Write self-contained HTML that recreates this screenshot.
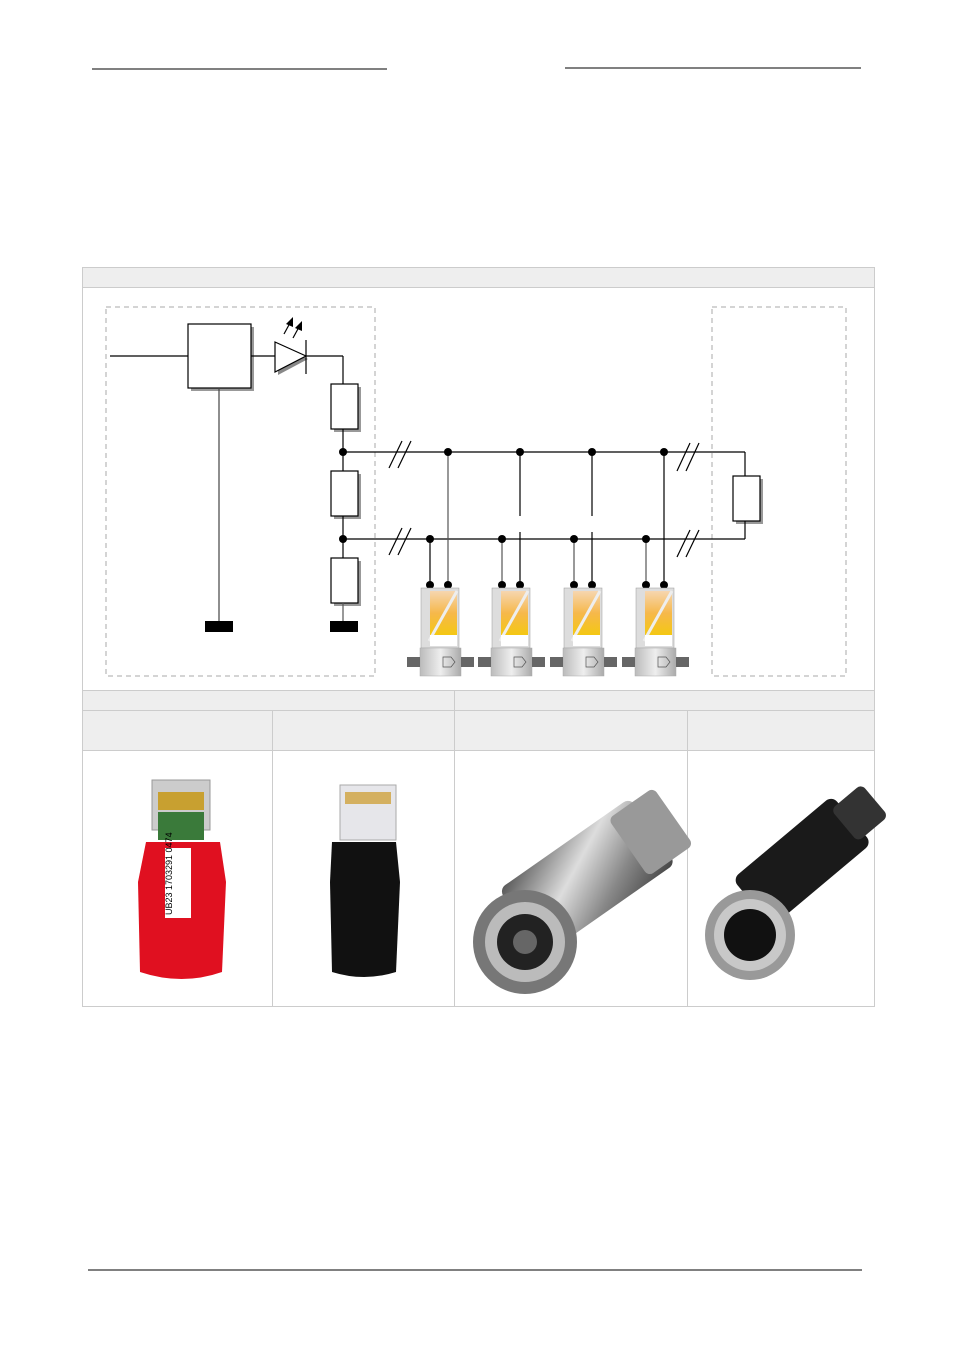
<!DOCTYPE html>
<html><head><meta charset="utf-8"><style>
html,body{margin:0;padding:0;background:#fff}
svg{display:block}
</style></head><body>
<svg width="955" height="1350" viewBox="0 0 955 1350" xmlns="http://www.w3.org/2000/svg" font-family="Liberation Sans, sans-serif">
<defs>
<linearGradient id="orng" x1="0" y1="0" x2="0" y2="1"><stop offset="0" stop-color="#f6d6b0"/><stop offset="0.5" stop-color="#f6b84a"/><stop offset="1" stop-color="#f4c810"/></linearGradient>
<linearGradient id="metal" x1="0" y1="0" x2="1" y2="0"><stop offset="0" stop-color="#bbb"/><stop offset="0.5" stop-color="#eee"/><stop offset="1" stop-color="#aaa"/></linearGradient>
<linearGradient id="silv" x1="0" y1="0" x2="1" y2="1"><stop offset="0" stop-color="#555"/><stop offset="0.4" stop-color="#ddd"/><stop offset="0.7" stop-color="#888"/><stop offset="1" stop-color="#444"/></linearGradient>
<g id="dev">
<rect x="-20" y="5" width="38" height="60" fill="#ddd" stroke="#999" stroke-width="0.5"/>
<rect x="-11" y="8" width="27" height="45" fill="url(#orng)"/>
<line x1="-12" y1="58" x2="16" y2="8" stroke="#eee" stroke-width="3"/>
<rect x="-11" y="52" width="27" height="11" fill="#fff"/>
<rect x="-21" y="65" width="41" height="28" fill="url(#metal)" stroke="#aaa" stroke-width="0.5"/>
<rect x="-34" y="74" width="13" height="10" fill="#666"/>
<rect x="20" y="74" width="13" height="10" fill="#666"/>
<path d="M2 74h8l4 5-4 5h-8z" fill="none" stroke="#555" stroke-width="0.7"/>
</g>
</defs>
<line x1="92" y1="69" x2="387" y2="69" stroke="#000" stroke-width="1"/>
<line x1="565" y1="68" x2="861" y2="68" stroke="#000" stroke-width="1"/>
<line x1="88" y1="1270" x2="862" y2="1270" stroke="#000" stroke-width="1"/>
<rect x="82.5" y="267.5" width="792" height="739" fill="#fff" stroke="#ccc"/>
<rect x="83" y="268" width="791" height="19" fill="#eee"/>
<line x1="82" y1="287.5" x2="874" y2="287.5" stroke="#ccc"/>
<rect x="83" y="690" width="791" height="60" fill="#eee"/>
<line x1="82" y1="690.5" x2="874" y2="690.5" stroke="#ccc"/>
<line x1="82" y1="710.5" x2="874" y2="710.5" stroke="#ccc"/>
<line x1="82" y1="750.5" x2="874" y2="750.5" stroke="#ccc"/>
<line x1="454.5" y1="690" x2="454.5" y2="1007" stroke="#ccc"/>
<line x1="272.5" y1="710" x2="272.5" y2="1007" stroke="#ccc"/>
<line x1="687.5" y1="710" x2="687.5" y2="1007" stroke="#ccc"/>
<rect x="106" y="307" width="269" height="369" fill="none" stroke="#aaa" stroke-dasharray="5,4"/>
<rect x="712" y="307" width="134" height="369" fill="none" stroke="#aaa" stroke-dasharray="5,4"/>
<g stroke="#000" stroke-width="1.2" fill="none">
<line x1="110" y1="356" x2="188" y2="356"/>
<rect x="191" y="327" width="63" height="64" fill="#999" stroke="none"/>
<rect x="188" y="324" width="63" height="64" fill="#fff"/>
<line x1="219" y1="388" x2="219" y2="622" stroke="#444"/>
<line x1="251" y1="356" x2="275" y2="356"/>
<polygon points="278,345 308,359 278,375" fill="#888" stroke="none"/>
<polygon points="275,342 306,356 275,372" fill="#fff"/>
<line x1="306" y1="340" x2="306" y2="374"/>
<line x1="306" y1="356" x2="343" y2="356"/>
<line x1="343" y1="356" x2="343" y2="384"/>
<line x1="284" y1="334" x2="290" y2="323"/><line x1="293" y1="338" x2="299" y2="327"/>
</g>
<polygon points="293,317 286,324 293,327" fill="#000"/>
<polygon points="302,321 295,328 302,331" fill="#000"/>
<g>
<rect x="334" y="387" width="27" height="45" fill="#999"/><rect x="331" y="384" width="27" height="45" fill="#fff" stroke="#000" stroke-width="1.2"/>
<rect x="334" y="474" width="27" height="45" fill="#999"/><rect x="331" y="471" width="27" height="45" fill="#fff" stroke="#000" stroke-width="1.2"/>
<rect x="334" y="561" width="27" height="45" fill="#999"/><rect x="331" y="558" width="27" height="45" fill="#fff" stroke="#000" stroke-width="1.2"/>
<rect x="736" y="479" width="27" height="45" fill="#999"/><rect x="733" y="476" width="27" height="45" fill="#fff" stroke="#000" stroke-width="1.2"/>
</g>
<g stroke="#000" stroke-width="1.2" fill="none">
<line x1="343" y1="429" x2="343" y2="471"/>
<line x1="343" y1="516" x2="343" y2="558"/>
<line x1="343" y1="603" x2="343" y2="622" stroke="#555"/>
<line x1="343" y1="452" x2="745" y2="452"/>
<line x1="343" y1="539" x2="745" y2="539"/>
<line x1="745" y1="452" x2="745" y2="476"/>
<line x1="745" y1="521" x2="745" y2="539"/>
<line x1="389" y1="468" x2="402" y2="441"/><line x1="398" y1="468" x2="411" y2="441"/>
<line x1="389" y1="555" x2="402" y2="528"/><line x1="398" y1="555" x2="411" y2="528"/>
<line x1="677" y1="471" x2="690" y2="443"/><line x1="686" y1="471" x2="699" y2="443"/>
<line x1="677" y1="557" x2="690" y2="530"/><line x1="686" y1="557" x2="699" y2="530"/>
<line x1="448" y1="452" x2="448" y2="583" stroke="#555"/>
<line x1="430" y1="539" x2="430" y2="583"/>
<line x1="520" y1="452" x2="520" y2="516"/><line x1="520" y1="532" x2="520" y2="583"/>
<line x1="502" y1="539" x2="502" y2="583" stroke="#555"/>
<line x1="592" y1="452" x2="592" y2="516"/><line x1="592" y1="532" x2="592" y2="583"/>
<line x1="574" y1="539" x2="574" y2="583" stroke="#555"/>
<line x1="664" y1="452" x2="664" y2="583"/>
<line x1="646" y1="539" x2="646" y2="583" stroke="#555"/>
</g>
<rect x="205" y="621" width="28" height="11" fill="#000"/>
<rect x="330" y="621" width="28" height="11" fill="#000"/>
<g fill="#000">
<circle cx="343" cy="452" r="4"/><circle cx="343" cy="539" r="4"/>
<circle cx="448" cy="452" r="4"/><circle cx="520" cy="452" r="4"/><circle cx="592" cy="452" r="4"/><circle cx="664" cy="452" r="4"/>
<circle cx="430" cy="539" r="4"/><circle cx="502" cy="539" r="4"/><circle cx="574" cy="539" r="4"/><circle cx="646" cy="539" r="4"/>
<circle cx="430" cy="585" r="4"/><circle cx="448" cy="585" r="4"/><circle cx="502" cy="585" r="4"/><circle cx="520" cy="585" r="4"/>
<circle cx="574" cy="585" r="4"/><circle cx="592" cy="585" r="4"/><circle cx="646" cy="585" r="4"/><circle cx="664" cy="585" r="4"/>
</g>
<use href="#dev" x="441" y="583"/>
<use href="#dev" x="512" y="583"/>
<use href="#dev" x="584" y="583"/>
<use href="#dev" x="656" y="583"/>
<rect x="152" y="780" width="58" height="50" fill="#ccc" stroke="#999"/>
<rect x="158" y="792" width="46" height="18" fill="#c8a030"/>
<rect x="158" y="812" width="46" height="28" fill="#3a7a3a"/>
<path d="M146 842 h74 l6 40 l-4 90 q-40 14 -82 0 l-2 -90z" fill="#e01020"/>
<rect x="165" y="848" width="26" height="70" fill="#fff"/>
<text transform="translate(172,915) rotate(-90)" font-size="9" fill="#000">UB23 1703291 0474</text>
<rect x="340" y="785" width="56" height="55" fill="#e6e6ea" stroke="#aaa"/>
<rect x="345" y="792" width="46" height="12" fill="#d4b060"/>
<path d="M332 842 h64 l4 40 l-4 90 q-32 10 -64 0 l-2 -90z" fill="#111"/>
<g transform="rotate(-35 575 885)">
<rect x="510" y="845" width="160" height="80" rx="8" fill="url(#silv)"/>
<rect x="640" y="850" width="55" height="70" rx="6" fill="#999"/>
</g>
<circle cx="525" cy="942" r="52" fill="#777"/>
<circle cx="525" cy="942" r="40" fill="#bbb"/>
<circle cx="525" cy="942" r="28" fill="#222"/>
<circle cx="525" cy="942" r="12" fill="#666"/>
<g transform="rotate(-40 790 870)">
<rect x="740" y="840" width="130" height="62" rx="8" fill="#1a1a1a"/>
<rect x="860" y="850" width="40" height="42" rx="6" fill="#333"/>
</g>
<circle cx="750" cy="935" r="45" fill="#999"/>
<circle cx="750" cy="935" r="36" fill="#c8c8c8"/>
<circle cx="750" cy="935" r="26" fill="#111"/>
</svg>
</body></html>
